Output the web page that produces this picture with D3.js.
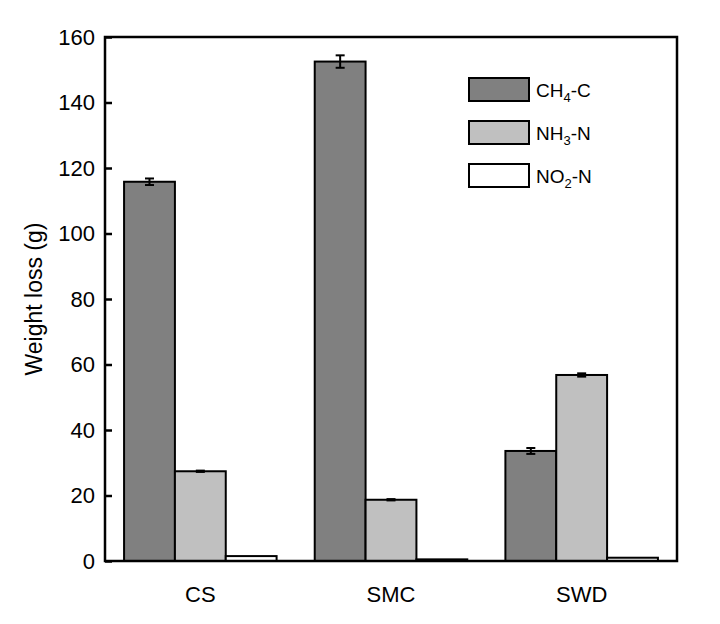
<!DOCTYPE html>
<html>
<head>
<meta charset="utf-8">
<script src="https://cdn.jsdelivr.net/npm/d3@7"></script>
<style>
  body { margin: 0; background: #fff; }
  text { font-family: "Liberation Sans", Arial, sans-serif; fill: #000; }
</style>
</head>
<body>
<div id="chart"></div>
<script>
// data
const categories = ["CS", "SMC", "SWD"];
const seriesKeys = ["CH4-C", "NH3-N", "NO2-N"];
const seriesLabels = [["CH", "4", "-C"], ["NH", "3", "-N"], ["NO", "2", "-N"]];
const ch4Values = [115.8, 152.5, 33.6];
const ch4Errors = [1.0, 1.9, 0.9];
const nh3Values = [27.4, 18.7, 56.8];
const nh3Errors = [0.2, 0.2, 0.5];
const no2Values = [1.5, 0.5, 1.0];
const no2Errors = [0.1, 0.1, 0.1];
const yTicks = [0, 20, 40, 60, 80, 100, 120, 140, 160];
const seriesColors = ["#808080", "#c0c0c0", "#ffffff"];

const seriesValues = [ch4Values, nh3Values, no2Values];
const seriesErrors = [ch4Errors, nh3Errors, no2Errors];

const width = 720, height = 624;
const margin = { top: 37, right: 43, bottom: 63, left: 105 };
const chartWidth = width - margin.left - margin.right;
const chartHeight = height - margin.top - margin.bottom;

const svg = d3.select("#chart").append("svg")
  .attr("width", width)
  .attr("height", height);

const g = svg.append("g")
  .attr("transform", `translate(${margin.left},${margin.top})`);

// scales
const x0 = d3.scaleBand()
  .domain(categories)
  .range([0, chartWidth])
  .paddingInner(0.2)
  .paddingOuter(0.1);

const x1 = d3.scaleBand()
  .domain(seriesKeys)
  .range([0, x0.bandwidth()]);

const y = d3.scaleLinear()
  .domain([0, 160])
  .range([chartHeight, 0]);

// bars
const rows = [];
categories.forEach((c, i) => {
  seriesKeys.forEach((k, j) => {
    rows.push({ cat: c, key: k, idx: j, value: seriesValues[j][i], err: seriesErrors[j][i] });
  });
});

g.selectAll(".bar")
  .data(rows)
  .join("rect")
  .attr("class", "bar")
  .attr("x", d => x0(d.cat) + x1(d.key))
  .attr("y", d => y(d.value))
  .attr("width", x1.bandwidth())
  .attr("height", d => chartHeight - y(d.value))
  .attr("fill", d => seriesColors[d.idx])
  .attr("stroke", "#000")
  .attr("stroke-width", 2);

// error bars
const errG = g.selectAll(".err")
  .data(rows.filter(d => d.err > 0.15))
  .join("g")
  .attr("class", "err")
  .attr("stroke", "#000")
  .attr("stroke-width", 2);

const cx = d => x0(d.cat) + x1(d.key) + x1.bandwidth() / 2;
errG.append("line")
  .attr("x1", cx).attr("x2", cx)
  .attr("y1", d => y(d.value + d.err)).attr("y2", d => y(d.value - d.err));
errG.append("line")
  .attr("x1", d => cx(d) - 4.5).attr("x2", d => cx(d) + 4.5)
  .attr("y1", d => y(d.value + d.err)).attr("y2", d => y(d.value + d.err));
errG.append("line")
  .attr("x1", d => cx(d) - 4.5).attr("x2", d => cx(d) + 4.5)
  .attr("y1", d => y(d.value - d.err)).attr("y2", d => y(d.value - d.err));

// frame
g.append("rect")
  .attr("width", chartWidth)
  .attr("height", chartHeight)
  .attr("fill", "none")
  .attr("stroke", "#000")
  .attr("stroke-width", 2.5);

// y axis (ticks point inward)
const yAxisG = g.append("g")
  .call(d3.axisLeft(y).tickValues(yTicks).tickSize(-7).tickPadding(10).tickSizeOuter(0));
yAxisG.select(".domain").remove();
yAxisG.selectAll("line").attr("stroke-width", 2.5);
yAxisG.selectAll("text")
  .style("font-size", "22px")
  .attr("font-family", null);

// x axis labels
const xAxisG = g.append("g")
  .attr("transform", `translate(0,${chartHeight})`)
  .call(d3.axisBottom(x0).tickSize(0).tickPadding(25));
xAxisG.select(".domain").remove();
xAxisG.selectAll("text")
  .style("font-size", "22px")
  .attr("font-family", null);

// y label
svg.append("text")
  .attr("transform", "rotate(-90)")
  .attr("x", -(margin.top + chartHeight / 2))
  .attr("y", 42)
  .attr("text-anchor", "middle")
  .style("font-size", "23px")
  .text("Weight loss (g)");

// legend
const legend = svg.append("g").attr("transform", "translate(469,78)");
seriesKeys.forEach((k, i) => {
  const row = legend.append("g").attr("transform", `translate(0,${i * 43})`);
  row.append("rect")
    .attr("width", 60)
    .attr("height", 23)
    .attr("fill", seriesColors[i])
    .attr("stroke", "#000")
    .attr("stroke-width", 2);
  const t = row.append("text")
    .attr("x", 67)
    .attr("y", 19)
    .style("font-size", "19px");
  const parts = seriesLabels[i];
  t.append("tspan").text(parts[0]);
  t.append("tspan").attr("dy", 5).style("font-size", "13px").text(parts[1]);
  t.append("tspan").attr("dy", -5).text(parts[2]);
});
</script>
</body>
</html>
